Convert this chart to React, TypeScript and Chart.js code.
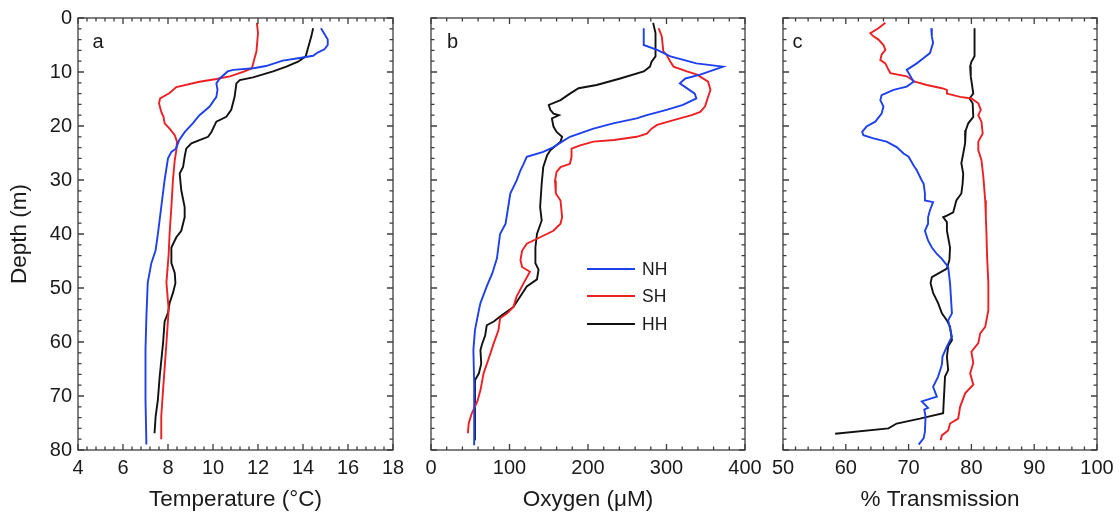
import React, { useEffect, useRef } from "react";
import { Chart, registerables } from "chart.js";

Chart.register(...registerables);

const FONT = "'Liberation Sans', Arial, Helvetica, sans-serif";
const BLUE = "rgb(30, 64, 235)";
const RED = "rgb(236, 32, 36)";
const BLACK = "#111111";

// ---------- Panel a: Temperature (°C) ----------
const tempDepthNH = [1.9, 4.0, 5.0, 5.8, 6.4, 7.0, 7.4, 7.9, 8.9, 9.3, 9.6, 9.9, 11.2, 12.1, 13.3, 14.6, 16.4, 18.0, 19.5, 21.1, 22.6, 24.2, 24.8, 26.0, 30.0, 35.0, 40.0, 43.0, 45.4, 49.0, 55.3, 61.4, 70.7, 79.0];
const tempNH = [14.8, 15.1, 15.1, 14.95, 14.65, 14.45, 13.85, 13.1, 12.35, 11.8, 10.9, 10.65, 10.3, 10.15, 10.2, 10.15, 9.85, 9.4, 9.1, 8.75, 8.5, 8.35, 8.15, 8.0, 7.85, 7.7, 7.55, 7.45, 7.26, 7.1, 7.04, 7.0, 7.0, 7.04];

const tempDepthSH = [0.9, 2.8, 6.2, 7.4, 9.3, 9.9, 10.8, 11.3, 11.8, 12.8, 13.9, 14.9, 15.8, 17.4, 18.3, 19.5, 20.5, 21.7, 22.9, 24.5, 26.3, 30.0, 35.0, 40.0, 43.7, 49.0, 54.0, 60.2, 68.9, 73.8, 78.0];
const tempSH = [11.95, 12.0, 11.93, 11.85, 11.73, 11.4, 10.75, 10.15, 9.4, 8.37, 8.07, 7.65, 7.6, 7.7, 7.8, 7.85, 8.07, 8.3, 8.4, 8.37, 8.3, 8.22, 8.15, 8.07, 8.03, 7.93, 8.03, 7.93, 7.78, 7.7, 7.7];

const tempDepthHH = [1.9, 3.4, 5.6, 7.1, 8.1, 9.0, 9.9, 11.0, 11.5, 12.1, 14.6, 17.0, 18.3, 19.2, 21.1, 22.0, 22.6, 23.2, 24.2, 25.7, 27.6, 28.8, 31.9, 35.0, 36.9, 39.4, 40.6, 42.5, 45.4, 47.2, 49.1, 50.9, 52.8, 54.6, 56.2, 60.2, 66.4, 70.7, 73.8, 76.9];
const tempHH = [14.45, 14.37, 14.22, 14.12, 13.78, 13.26, 12.67, 11.78, 11.19, 11.04, 10.96, 10.81, 10.59, 10.15, 9.93, 9.78, 9.4, 9.04, 8.81, 8.74, 8.67, 8.52, 8.59, 8.74, 8.74, 8.59, 8.37, 8.15, 8.15, 8.3, 8.33, 8.22, 8.07, 8.0, 7.85, 7.78, 7.63, 7.55, 7.45, 7.4];

// ---------- Panel b: Oxygen (µM) ----------
const oxyDepthNH = [1.9, 5.0, 5.9, 7.1, 8.4, 9.0, 10.5, 11.2, 12.1, 14.0, 14.9, 16.1, 17.0, 18.0, 18.6, 19.5, 20.5, 22.0, 22.9, 23.9, 24.8, 25.7, 27.0, 28.2, 30.1, 32.5, 34.4, 38.1, 40.0, 44.5, 47.3, 49.7, 52.8, 54.1, 57.8, 61.5, 67.7, 73.8, 79.1];
const oxyNH = [271, 271, 288, 305, 338, 372, 343, 324, 317, 336, 338, 321, 300, 275, 262, 232, 207, 177, 167, 156, 143, 122, 118, 114, 109, 101, 99, 95, 88, 84, 78, 71, 63, 61, 56, 54, 55, 55, 55];

const oxyDepthSH = [1.9, 3.4, 6.2, 6.8, 8.1, 9.0, 9.9, 10.5, 11.8, 13.3, 14.6, 16.4, 17.4, 18.0, 18.9, 19.8, 20.5, 21.4, 22.0, 22.6, 22.9, 23.6, 24.2, 25.7, 27.0, 27.6, 28.5, 30.1, 32.5, 33.8, 36.9, 38.1, 39.4, 40.6, 41.8, 43.1, 44.8, 46.1, 47.0, 49.1, 51.6, 53.5, 54.7, 55.6, 57.8, 60.2, 63.3, 65.8, 68.9, 71.0, 73.2, 75.1, 76.9];
const oxySH = [290, 294, 296, 300, 305, 309, 326, 339, 353, 356, 353, 349, 343, 332, 309, 288, 281, 275, 262, 233, 207, 190, 179, 179, 177, 165, 160, 158, 159, 165, 167, 165, 156, 139, 122, 116, 114, 116, 126, 118, 109, 105, 97, 88, 86, 80, 73, 67, 63, 59, 52, 48, 47];

const oxyDepthHH = [0.9, 2.8, 4.6, 7.1, 8.1, 9.0, 9.9, 11.2, 12.4, 13.0, 14.0, 15.2, 16.1, 17.0, 17.7, 18.0, 18.6, 20.1, 21.1, 22.0, 22.9, 24.5, 25.4, 27.6, 30.7, 35.0, 37.5, 40.0, 42.5, 45.4, 46.6, 48.4, 49.7, 53.5, 55.3, 56.2, 56.9, 58.8, 60.4, 61.5, 64.0, 65.8, 67.1, 70.7, 74.5, 78.2];
const oxyHH = [283, 286, 286, 286, 281, 279, 271, 241, 211, 188, 177, 165, 150, 152, 156, 163, 154, 156, 160, 167, 165, 152, 148, 143, 141, 139, 141, 135, 133, 133, 137, 135, 122, 105, 88, 80, 71, 69, 65, 63, 64, 61, 56, 56, 56, 56];

// ---------- Panel c: % Transmission ----------
const transDepthNH = [1.9, 3.4, 4.6, 6.5, 7.4, 8.4, 9.6, 10.2, 11.2, 11.8, 12.7, 13.3, 14.3, 15.2, 16.4, 17.7, 19.2, 20.1, 21.1, 21.7, 22.3, 22.9, 23.9, 25.1, 25.7, 27.3, 28.2, 30.1, 30.7, 32.5, 33.8, 34.1, 35.6, 36.9, 38.1, 39.4, 41.2, 42.5, 43.7, 44.6, 46.1, 49.1, 54.7, 56.0, 59.0, 60.8, 62.7, 64.2, 66.4, 68.3, 70.1, 71.0, 72.2, 72.5, 73.8, 76.6, 77.8, 79.0];
const transNH = [73.6, 73.7, 73.9, 73.4, 72.4, 71.3, 69.7, 70.0, 70.5, 70.8, 69.7, 67.6, 65.7, 65.5, 66.0, 65.7, 64.7, 63.3, 62.6, 62.8, 64.4, 66.5, 68.1, 69.2, 70.0, 70.8, 71.3, 72.1, 72.4, 72.6, 72.6, 73.9, 73.4, 73.1, 73.1, 72.6, 73.1, 73.7, 74.5, 75.3, 76.3, 76.6, 76.9, 76.3, 76.9, 76.1, 75.4, 75.3, 74.7, 73.9, 74.5, 72.1, 73.1, 72.5, 72.7, 72.6, 72.4, 71.6];

const transDepthSH = [0.9, 1.9, 2.8, 3.4, 4.0, 5.0, 5.9, 6.8, 7.8, 8.4, 9.6, 10.2, 10.8, 11.8, 12.4, 13.0, 13.3, 14.0, 14.6, 14.9, 15.8, 17.0, 18.0, 19.2, 21.4, 22.9, 24.5, 26.3, 29.4, 33.8, 36.9, 40.0, 44.3, 49.1, 54.1, 57.2, 58.4, 60.2, 61.8, 63.9, 65.8, 67.9, 69.5, 72.0, 74.2, 75.1, 76.4, 77.3, 78.2];
const transSH = [66.3, 65.2, 63.9, 64.4, 65.2, 66.0, 66.3, 65.7, 65.5, 66.3, 66.8, 67.1, 69.7, 71.0, 72.9, 75.3, 76.1, 76.1, 78.2, 80.0, 81.1, 81.5, 81.1, 81.6, 81.8, 81.1, 81.1, 81.6, 81.9, 82.2, 82.3, 82.4, 82.5, 82.7, 82.7, 82.2, 81.4, 81.1, 80.0, 80.3, 79.8, 80.3, 79.0, 78.2, 77.9, 76.6, 76.3, 75.3, 75.1];

const transDepthHH = [1.9, 7.1, 8.1, 9.0, 10.8, 14.0, 14.9, 15.8, 18.3, 19.5, 20.8, 23.2, 25.1, 26.9, 28.8, 30.7, 32.5, 33.8, 36.0, 36.6, 36.9, 37.8, 39.4, 42.5, 44.8, 46.4, 48.0, 49.1, 50.9, 52.8, 54.7, 56.0, 57.2, 59.7, 60.8, 62.7, 65.2, 66.4, 73.2, 74.2, 75.1, 76.0, 77.0];
const transHH = [80.5, 80.5, 80.0, 79.8, 79.9, 80.3, 79.7, 80.2, 80.3, 79.5, 79.1, 79.0, 78.7, 78.4, 78.7, 78.6, 78.4, 77.6, 77.1, 76.1, 75.5, 76.1, 76.1, 76.6, 76.5, 76.1, 73.7, 73.5, 73.9, 74.7, 75.3, 76.1, 76.6, 76.9, 76.3, 76.1, 76.3, 75.8, 75.5, 71.8, 68.1, 66.8, 58.3];

// ---------- Axes ----------
const depthMin = 0;
const depthMax = 80;
const depthStep = 10;
const depthMinor = 2;
const seriesNames = ["NH", "SH", "HH"];

type Series = { label: string; depths: number[]; values: number[]; color: string };
type Panel = {
  letter: string;
  letterDx: number;
  areaLeft: number;
  areaRight: number;
  xMin: number;
  xMax: number;
  xStep: number;
  xMinor: number;
  xTitle: string;
  showY: boolean;
  legend: boolean;
  series: Series[];
};

const W = 1120;
const H = 516;
const AREA_TOP = 18;
const AREA_BOTTOM = 450;
const TICK_SIZE = 20;
const TITLE_SIZE = 22.5;

const panels: Panel[] = [
  {
    letter: "a", letterDx: 14.5, areaLeft: 78, areaRight: 393,
    xMin: 4, xMax: 18, xStep: 2, xMinor: 0.4, xTitle: "Temperature (\u00B0C)",
    showY: true, legend: false,
    series: [
      { label: seriesNames[0], depths: tempDepthNH, values: tempNH, color: BLUE },
      { label: seriesNames[1], depths: tempDepthSH, values: tempSH, color: RED },
      { label: seriesNames[2], depths: tempDepthHH, values: tempHH, color: BLACK },
    ],
  },
  {
    letter: "b", letterDx: 16, areaLeft: 431, areaRight: 745,
    xMin: 0, xMax: 400, xStep: 100, xMinor: 20, xTitle: "Oxygen (\u03BCM)",
    showY: false, legend: true,
    series: [
      { label: seriesNames[0], depths: oxyDepthNH, values: oxyNH, color: BLUE },
      { label: seriesNames[1], depths: oxyDepthSH, values: oxySH, color: RED },
      { label: seriesNames[2], depths: oxyDepthHH, values: oxyHH, color: BLACK },
    ],
  },
  {
    letter: "c", letterDx: 9.5, areaLeft: 783, areaRight: 1097,
    xMin: 50, xMax: 100, xStep: 10, xMinor: 2, xTitle: "% Transmission",
    showY: false, legend: false,
    series: [
      { label: seriesNames[0], depths: transDepthNH, values: transNH, color: BLUE },
      { label: seriesNames[1], depths: transDepthSH, values: transSH, color: RED },
      { label: seriesNames[2], depths: transDepthHH, values: transHH, color: BLACK },
    ],
  },
];

function framePlugin(p: Panel) {
  return {
    id: "frame_" + p.letter,
    afterDatasetsDraw(chart: any) {
      const { ctx, chartArea } = chart;
      const { left, right, top, bottom } = chartArea;
      const xs = chart.scales.x;
      const ys = chart.scales.y;
      ctx.save();
      ctx.strokeStyle = "#3c3c3c";
      ctx.lineWidth = 1.3;
      ctx.strokeRect(left, top, right - left, bottom - top);
      const MAJ = 6;
      const MIN = 3.5;
      ctx.beginPath();
      const nx = Math.round((p.xMax - p.xMin) / p.xMinor);
      const perX = Math.round(p.xStep / p.xMinor);
      for (let i = 0; i <= nx; i++) {
        const v = p.xMin + i * p.xMinor;
        const px = xs.getPixelForValue(v);
        const len = i % perX === 0 ? MAJ : MIN;
        ctx.moveTo(px, bottom);
        ctx.lineTo(px, bottom - len);
        ctx.moveTo(px, top);
        ctx.lineTo(px, top + len);
      }
      const ny = Math.round((depthMax - depthMin) / depthMinor);
      const perY = Math.round(depthStep / depthMinor);
      for (let i = 0; i <= ny; i++) {
        const v = depthMin + i * depthMinor;
        const py = ys.getPixelForValue(v);
        const len = i % perY === 0 ? MAJ : MIN;
        ctx.moveTo(left, py);
        ctx.lineTo(left + len, py);
        ctx.moveTo(right, py);
        ctx.lineTo(right - len, py);
      }
      ctx.stroke();

      // panel letter
      ctx.fillStyle = "#1a1a1a";
      ctx.font = `20px ${FONT}`;
      ctx.textAlign = "left";
      ctx.textBaseline = "alphabetic";
      ctx.fillText(p.letter, left + p.letterDx, top + 30);

      // legend
      if (p.legend) {
        const lx0 = 587;
        const lx1 = 635;
        const rows = [269, 296, 324];
        ctx.font = `17.5px ${FONT}`;
        ctx.textBaseline = "middle";
        p.series.forEach((s, i) => {
          ctx.strokeStyle = s.color;
          ctx.lineWidth = 1.8;
          ctx.beginPath();
          ctx.moveTo(lx0, rows[i]);
          ctx.lineTo(lx1, rows[i]);
          ctx.stroke();
          ctx.fillStyle = "#1a1a1a";
          ctx.fillText(s.label, 642, rows[i] + 1);
        });
      }
      ctx.restore();
    },
  };
}

function PanelChart({ p }: { p: Panel }) {
  const ref = useRef<HTMLCanvasElement | null>(null);
  useEffect(() => {
    if (!ref.current) return;
    const chart = new Chart(ref.current, {
      type: "scatter",
      data: {
        datasets: p.series.map((s) => ({
          label: s.label,
          data: s.depths.map((d, i) => ({ x: s.values[i], y: d })),
          borderColor: s.color,
          backgroundColor: s.color,
          showLine: true,
          borderWidth: 1.9,
          pointRadius: 0,
          pointHoverRadius: 0,
          tension: 0,
          fill: false,
        })),
      },
      options: {
        responsive: false,
        maintainAspectRatio: false,
        animation: false,
        events: [],
        layout: {
          padding: {
            left: p.showY ? 0 : p.areaLeft,
            right: W - p.areaRight,
            top: AREA_TOP,
            bottom: 0,
          },
        },
        plugins: {
          legend: { display: false },
          tooltip: { enabled: false },
        },
        scales: {
          x: {
            type: "linear",
            position: "bottom",
            min: p.xMin,
            max: p.xMax,
            grid: { display: false, drawTicks: false },
            border: { display: false },
            ticks: {
              stepSize: p.xStep,
              autoSkip: false,
              maxRotation: 0,
              padding: 6,
              color: "#1a1a1a",
              font: { family: FONT, size: TICK_SIZE },
            },
            title: {
              display: true,
              text: p.xTitle,
              color: "#1a1a1a",
              font: { family: FONT, size: TITLE_SIZE },
              padding: { top: 0, bottom: 2.5 },
            },
            afterFit: (s: any) => {
              s.height = H - AREA_BOTTOM;
            },
          },
          y: {
            type: "linear",
            position: "left",
            reverse: true,
            min: depthMin,
            max: depthMax,
            grid: { display: false, drawTicks: false },
            border: { display: false },
            ticks: {
              display: p.showY,
              stepSize: depthStep,
              autoSkip: false,
              padding: 6,
              color: "#1a1a1a",
              font: { family: FONT, size: TICK_SIZE },
            },
            title: {
              display: p.showY,
              text: "Depth (m)",
              color: "#1a1a1a",
              font: { family: FONT, size: TITLE_SIZE },
              padding: { top: 6.5, bottom: 0 },
            },
            afterFit: (s: any) => {
              s.width = p.showY ? p.areaLeft : 0;
            },
          },
        },
      },
      plugins: [framePlugin(p)],
    } as any);
    return () => chart.destroy();
  }, [p]);
  return (
    <canvas
      ref={ref}
      width={W}
      height={H}
      style={{ position: "absolute", left: 0, top: 0, width: W, height: H, display: "block" }}
    />
  );
}

export default function App() {
  return (
    <div style={{ position: "absolute", left: 0, top: 0, width: W, height: H, background: "#ffffff", overflow: "hidden" }}>
      {panels.map((p) => (
        <PanelChart key={p.letter} p={p} />
      ))}
    </div>
  );
}
